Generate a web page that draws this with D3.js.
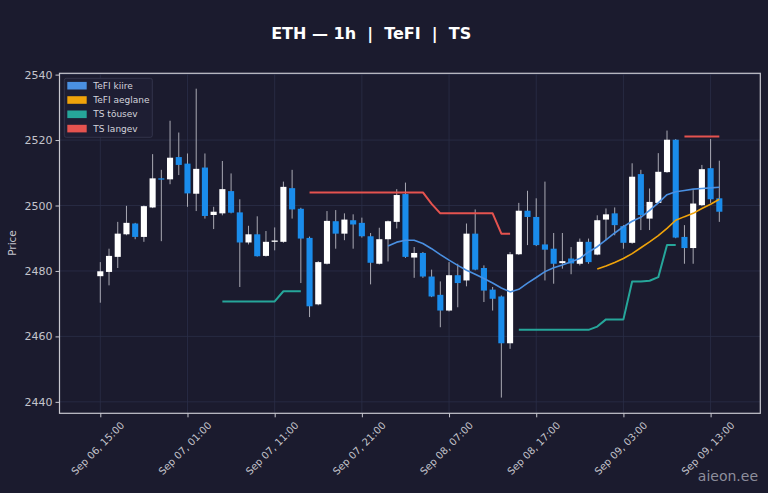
<!DOCTYPE html>
<html>
<head>
<meta charset="utf-8">
<script src="https://cdn.jsdelivr.net/npm/d3@7"></script>
<style>
  html, body { margin: 0; padding: 0; background: #1b1b2e; }
  svg { display: block; font-family: "DejaVu Sans", sans-serif; }
</style>
</head>
<body>
<svg id="chart" width="768" height="493"></svg>
<script>
// hourly candles, first one is Sep 06 15:00
const open = [
  2478.4, 2479.7, 2484.3, 2491.2, 2494.5, 2490.4, 2499.4, 2508.3, 2508.0, 2514.8,
  2512.8, 2503.6, 2511.6, 2497.1, 2497.6, 2504.4, 2497.9, 2488.7, 2491.2, 2484.6,
  2488.9, 2488.9, 2505.3, 2499.0, 2490.1, 2469.8, 2482.2, 2495.2, 2491.4, 2495.5,
  2494.7, 2490.6, 2482.2, 2489.7, 2495.0, 2503.5, 2484.1, 2485.5, 2478.3, 2472.7,
  2467.9, 2478.7, 2477.1, 2491.4, 2480.9, 2474.3, 2472.2, 2457.9, 2485.1, 2498.4,
  2496.5, 2488.1, 2486.8, 2482.4, 2483.8, 2482.2, 2488.9, 2485.0, 2495.7, 2497.6,
  2493.7, 2488.6, 2509.6, 2496.0, 2500.8, 2510.2, 2520.1, 2490.4, 2487.0, 2500.1,
  2511.4, 2502.2
];
const high = [
  2482.7, 2486.8, 2495.0, 2499.9, 2494.7, 2500.0, 2515.7, 2510.9, 2525.9, 2522.3,
  2515.9, 2535.7, 2515.9, 2499.6, 2513.6, 2509.8, 2501.9, 2493.8, 2496.7, 2492.2,
  2493.3, 2507.3, 2510.9, 2499.3, 2490.5, 2483.0, 2498.3, 2498.6, 2497.6, 2497.3,
  2496.3, 2491.6, 2493.2, 2495.4, 2505.0, 2507.0, 2487.3, 2485.8, 2480.4, 2476.8,
  2482.7, 2482.2, 2494.5, 2498.8, 2481.7, 2475.1, 2472.5, 2485.8, 2500.8, 2504.5,
  2502.2, 2507.3, 2491.6, 2491.6, 2487.3, 2489.9, 2489.9, 2497.0, 2499.1, 2499.4,
  2494.0, 2512.9, 2510.9, 2505.2, 2516.0, 2522.9, 2520.3, 2494.0, 2504.7, 2512.4,
  2520.3, 2513.7
];
const low = [
  2470.3, 2475.6, 2480.9, 2490.9, 2489.7, 2488.9, 2499.2, 2489.1, 2506.5, 2509.3,
  2499.6, 2498.3, 2496.0, 2492.8, 2497.0, 2497.6, 2475.1, 2488.1, 2484.4, 2484.4,
  2486.3, 2488.6, 2496.0, 2476.3, 2465.9, 2469.5, 2482.0, 2486.8, 2489.4, 2486.8,
  2490.2, 2475.9, 2482.0, 2482.9, 2493.0, 2484.0, 2477.9, 2477.9, 2472.0, 2462.8,
  2467.6, 2468.9, 2475.3, 2480.2, 2470.5, 2467.9, 2441.3, 2456.2, 2484.9, 2487.9,
  2487.6, 2477.1, 2476.1, 2480.7, 2479.0, 2481.7, 2482.2, 2484.8, 2489.4, 2490.9,
  2486.8, 2488.3, 2492.5, 2492.5, 2500.6, 2510.0, 2490.0, 2482.2, 2482.2, 2499.8,
  2500.8, 2495.0
];
const close = [
  2479.9, 2484.6, 2491.4, 2494.7, 2490.4, 2499.8, 2508.3, 2507.9, 2514.6, 2512.4,
  2503.7, 2511.2, 2496.8, 2498.1, 2505.0, 2497.8, 2488.7, 2491.2, 2484.5, 2488.9,
  2489.3, 2505.7, 2498.8, 2489.9, 2469.2, 2482.7, 2495.3, 2491.4, 2495.7, 2494.2,
  2490.6, 2482.5, 2489.7, 2495.2, 2503.2, 2484.3, 2485.5, 2478.3, 2472.2, 2467.9,
  2478.7, 2476.3, 2491.4, 2480.4, 2474.0, 2471.5, 2457.9, 2485.1, 2498.4, 2496.5,
  2487.9, 2486.5, 2482.2, 2483.0, 2482.3, 2488.9, 2482.7, 2495.5, 2497.3, 2494.0,
  2488.6, 2508.8, 2497.1, 2501.1, 2510.3, 2520.1, 2490.2, 2487.0, 2500.6, 2511.1,
  2501.9, 2498.1
];

const _ = null;
const tefiFast = [
  _, _, _, _, _, _, _, _, _, _,
  _, _, _, _, _, _, _, _, _, _,
  _, _, _, _, _, _, _, _, _, _,
  _, _, _, 2487.6, 2488.8, 2489.4, 2489.4, 2488.4, 2486.8, 2485.0,
  2483.3, 2481.7, 2480.2, 2479.0, 2477.7, 2476.3, 2474.8, 2473.6, 2474.4, 2476.3,
  2478.0, 2479.8, 2481.0, 2481.8, 2482.8, 2483.8, 2485.8, 2487.4, 2489.5, 2491.6,
  2493.5, 2495.2, 2496.4, 2498.5, 2500.8, 2503.3, 2504.2, 2504.6, 2505.0, 2505.2,
  2505.4, 2505.6
];
const tefiSlow = [
  _, _, _, _, _, _, _, _, _, _,
  _, _, _, _, _, _, _, _, _, _,
  _, _, _, _, _, _, _, _, _, _,
  _, _, _, _, _, _, _, _, _, _,
  _, _, _, _, _, _, _, _, _, _,
  _, _, _, _, _, _, _, 2480.6, 2481.5, 2482.6,
  2483.8, 2485.3, 2487.1, 2488.9, 2490.8, 2493.0, 2495.5, 2496.6, 2497.6, 2499.1,
  2500.4, 2501.9
];
const tsUp = [
  _, _, _, _, _, _, _, _, _, _,
  _, _, _, _, 2470.7, 2470.7, 2470.7, 2470.7, 2470.7, 2470.7,
  2470.7, 2473.8, 2473.8, 2473.8, _, _, _, _, _, _,
  _, _, _, _, _, _, _, _, _, _,
  _, _, _, _, _, _, _, _, 2462.0, 2462.0,
  2462.0, 2462.0, 2462.0, 2462.0, 2462.0, 2462.0, 2462.0, 2463.0, 2465.2, 2465.2,
  2465.2, 2476.8, 2476.8, 2477.0, 2478.1, 2487.9, 2487.9, _, _, _,
  _, _
];
const tsDown = [
  _, _, _, _, _, _, _, _, _, _,
  _, _, _, _, _, _, _, _, _, _,
  _, _, _, _, 2504.0, 2504.0, 2504.0, 2504.0, 2504.0, 2504.0,
  2504.0, 2504.0, 2504.0, 2504.0, 2504.0, 2504.0, 2504.0, 2504.0, 2500.5, 2497.6,
  2497.6, 2497.6, 2497.6, 2497.6, 2497.6, 2497.6, 2491.4, 2491.4, _, _,
  _, _, _, _, _, _, _, _, _, _,
  _, _, _, _, _, _, _, 2521.1, 2521.1, 2521.1,
  2521.1, 2521.1
];

const yTicks = [2440, 2460, 2480, 2500, 2520, 2540];
const xTickIndex = [0, 10, 20, 30, 40, 50, 60, 70];
const xTickLabels = [
  'Sep 06, 15:00', 'Sep 07, 01:00', 'Sep 07, 11:00', 'Sep 07, 21:00',
  'Sep 08, 07:00', 'Sep 08, 17:00', 'Sep 09, 03:00', 'Sep 09, 13:00'
];
const seriesNames = ['TeFI kiire', 'TeFI aeglane', 'TS tõusev', 'TS langev'];
const seriesColors = ['#4a90e2', '#f0a30a', '#26a69a', '#e5534f'];

const svg = d3.select('#chart');
const plot = { left: 59.5, right: 760.3, top: 73.3, bottom: 413.3 };

const x = d3.scaleLinear().domain([-4.68, 75.7]).range([plot.left, plot.right]);
const y = d3.scaleLinear().domain([2436.5, 2540.4]).range([plot.bottom, plot.top]);

const candles = open.map((o, i) => ({ i, o, h: high[i], l: low[i], c: close[i] }));

svg.append('rect')
  .attr('width', 768)
  .attr('height', 493)
  .attr('fill', '#1b1b2e');

// grid
const grid = svg.append('g').attr('stroke', '#2b2e47').attr('stroke-width', 0.8);
grid.selectAll('.hg')
  .data(yTicks)
  .join('line')
  .attr('x1', plot.left)
  .attr('x2', plot.right)
  .attr('y1', d => y(d))
  .attr('y2', d => y(d));
grid.selectAll('.vg')
  .data(xTickIndex)
  .join('line')
  .attr('x1', d => x(d))
  .attr('x2', d => x(d))
  .attr('y1', plot.top)
  .attr('y2', plot.bottom);

// candles
const bw = (x(1) - x(0)) * 0.7;
const cg = svg.append('g');
cg.selectAll('.wick')
  .data(candles)
  .join('line')
  .attr('x1', d => x(d.i))
  .attr('x2', d => x(d.i))
  .attr('y1', d => y(d.h))
  .attr('y2', d => y(d.l))
  .attr('stroke', '#a9a9b3')
  .attr('stroke-width', 1);
cg.selectAll('.body')
  .data(candles)
  .join('rect')
  .attr('x', d => x(d.i) - bw / 2)
  .attr('width', bw)
  .attr('y', d => y(Math.max(d.o, d.c)))
  .attr('height', d => Math.max(1.2, Math.abs(y(d.o) - y(d.c))))
  .attr('fill', d => (d.c >= d.o ? '#ffffff' : '#1a8ceb'));

// indicator lines
const line = d3
  .line()
  .defined(d => d != null)
  .x((d, i) => x(i))
  .y(d => y(d));

[tefiFast, tefiSlow, tsUp, tsDown].forEach((s, k) => {
  svg.append('path')
    .datum(s)
    .attr('d', line)
    .attr('fill', 'none')
    .attr('stroke', seriesColors[k])
    .attr('stroke-width', k < 2 ? 1.6 : 2)
    .attr('stroke-linejoin', 'round');
});

// frame
svg.append('rect')
  .attr('x', plot.left)
  .attr('y', plot.top)
  .attr('width', plot.right - plot.left)
  .attr('height', plot.bottom - plot.top)
  .attr('fill', 'none')
  .attr('stroke', '#c8c8d0')
  .attr('stroke-width', 1.2);

// axes
const yAxis = svg.append('g')
  .attr('transform', `translate(${plot.left},0)`)
  .call(d3.axisLeft(y).tickValues(yTicks).tickSize(4).tickPadding(3).tickFormat(d3.format('d')));
yAxis.select('.domain').remove();
yAxis.selectAll('.tick line').attr('stroke', '#c8c8d0');
yAxis.selectAll('.tick text')
  .attr('fill', '#c4c4cc')
  .style('font-size', '11px')
  .style('font-family', '"DejaVu Sans", sans-serif');

const xAxis = svg.append('g')
  .attr('transform', `translate(0,${plot.bottom})`)
  .call(d3.axisBottom(x).tickValues(xTickIndex).tickSize(4).tickFormat((d, i) => xTickLabels[i]));
xAxis.select('.domain').remove();
xAxis.selectAll('.tick line').attr('stroke', '#c8c8d0');
xAxis.selectAll('.tick text')
  .attr('fill', '#c4c4cc')
  .attr('x', 0)
  .attr('y', 0)
  .attr('dy', '0.35em')
  .attr('text-anchor', 'middle')
  .attr('transform', 'translate(-3,35) rotate(-45)')
  .style('font-size', '10px')
  .style('font-family', '"DejaVu Sans", sans-serif');

svg.append('text')
  .attr('transform', 'translate(16,243) rotate(-90)')
  .attr('text-anchor', 'middle')
  .attr('fill', '#c4c4cc')
  .style('font-size', '10.5px')
  .text('Price');

// title
svg.append('text')
  .attr('x', 371.2)
  .attr('y', 39.3)
  .attr('text-anchor', 'middle')
  .attr('fill', '#ffffff')
  .style('font-size', '16px')
  .style('font-weight', 'bold')
  .style('white-space', 'pre')
  .text('ETH — 1h  |  TeFI  |  TS');

// legend
const legend = svg.append('g').attr('transform', 'translate(64.3,78.3)');
legend.append('rect')
  .attr('width', 88)
  .attr('height', 59)
  .attr('rx', 2)
  .attr('fill', '#1e1e33')
  .attr('stroke', '#3a3b52')
  .attr('stroke-width', 0.8);
const item = legend.selectAll('.item')
  .data(seriesNames)
  .join('g')
  .attr('transform', (d, i) => `translate(0,${7.4 + i * 14.3})`);
item.append('rect')
  .attr('x', 3)
  .attr('y', -3.8)
  .attr('width', 19.4)
  .attr('height', 7.6)
  .attr('fill', (d, i) => seriesColors[i]);
item.append('text')
  .attr('x', 29)
  .attr('dy', '0.35em')
  .attr('fill', '#d4d4dc')
  .style('font-size', '9px')
  .text(d => d);

// watermark
svg.append('text')
  .attr('x', 758)
  .attr('y', 481)
  .attr('text-anchor', 'end')
  .attr('fill', '#8e8e9c')
  .style('font-size', '14px')
  .text('aieon.ee');
</script>
</body>
</html>
